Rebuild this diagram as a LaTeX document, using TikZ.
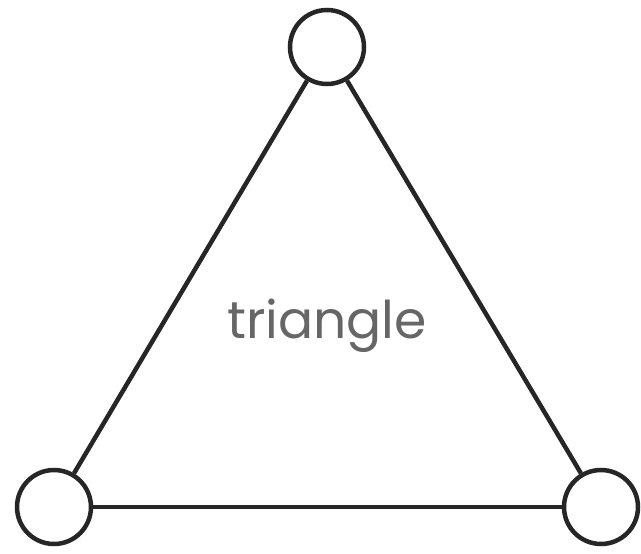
\documentclass[tikz,border=0pt]{standalone}
\usepackage{fontspec}
\newfontfamily\labelfont{Poppins}
\begin{document}
\begin{tikzpicture}[x=1pt,y=-1pt,
  vertex/.style={circle,draw=black!85,line width=4.5pt,minimum size=74pt,inner sep=0pt,fill=white},
  edge/.style={draw=black!85,line width=4.5pt},
  lbl/.style={text=black!60,font=\labelfont\fontsize{52}{52}\selectfont}]
\useasboundingbox (0,0) rectangle (641,554);
\node[vertex] (t) at (327,47) {};
\node[vertex] (l) at (54,507) {};
\node[vertex] (r) at (601,507) {};
\draw[edge] (t) -- (l);
\draw[edge] (t) -- (r);
\draw[edge] (l) -- (r);
\node[lbl] (txt) at (327,326) {triangle};
\end{tikzpicture}
\end{document}
